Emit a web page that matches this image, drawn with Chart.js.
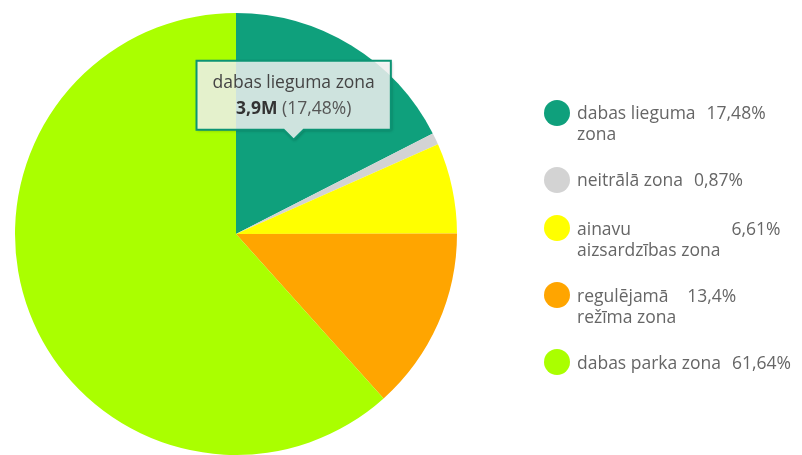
<!DOCTYPE html>
<html>
<head>
<meta charset="utf-8">
<script src="https://cdn.jsdelivr.net/npm/chart.js@4"></script>
<style>
  html, body { margin: 0; padding: 0; background: #fff; }
  #wrap { position: relative; width: 802px; height: 455px; overflow: hidden; }
  #c { position: absolute; left: 0; top: 0; }
  #legend { position: absolute; left: 544px; top: 102px; font-family: "Open Sans", sans-serif; font-size: 17.5px; color: #666; }
  .item { display: flex; align-items: flex-start; margin-bottom: 25px; line-height: 21px; }
  .dot { width: 26px; height: 26px; border-radius: 50%; margin-top: -2.5px; margin-right: 7px; flex: none; }
  .lab { white-space: nowrap; }
  .val { white-space: nowrap; margin-left: 11px; }
</style>
</head>
<body>
<div id="wrap">
  <canvas id="c" width="802" height="455"></canvas>
  <div id="legend"></div>
</div>
<script>
// ---- data ----
const categories = ["dabas lieguma zona", "neitrālā zona", "ainavu aizsardzības zona", "regulējamā režīma zona", "dabas parka zona"];
const shares = [17.48, 0.87, 6.61, 13.4, 61.64];
const colors = ["#0fa07c", "#d3d3d3", "#ffff00", "#ffa500", "#aaff00"];
const tooltipIndex = 0;
const tooltipAmount = "3,9M";

const fmtPct = v => String(v).replace('.', ',') + '%';
const FONT_FAMILY = '"Open Sans", sans-serif';
const FONT_SIZE = 17.5;

// ---- tooltip plugin ----
const staticTooltip = {
  id: 'staticTooltip',
  afterDraw(chart) {
    const ctx = chart.ctx;
    const el = chart.getDatasetMeta(0).data[tooltipIndex];
    const pos = el.tooltipPosition();
    const title = categories[tooltipIndex];
    const amount = tooltipAmount;
    const pct = ' (' + fmtPct(shares[tooltipIndex]) + ')';
    ctx.save();
    ctx.font = FONT_SIZE + 'px ' + FONT_FAMILY;
    const tW = ctx.measureText(title).width;
    const pW = ctx.measureText(pct).width;
    ctx.font = 'bold ' + FONT_SIZE + 'px ' + FONT_FAMILY;
    const aW = ctx.measureText(amount).width;
    const bW = aW + pW;
    const w = Math.max(tW, bW) + 32;
    const h = 69;
    const caret = 10;
    const left = pos.x - w / 2, right = pos.x + w / 2;
    const bottom = pos.y - caret, top = bottom - h;
    ctx.beginPath();
    ctx.moveTo(left, top);
    ctx.lineTo(right, top);
    ctx.lineTo(right, bottom);
    ctx.lineTo(pos.x + caret, bottom);
    ctx.lineTo(pos.x, pos.y);
    ctx.lineTo(pos.x - caret, bottom);
    ctx.lineTo(left, bottom);
    ctx.closePath();
    ctx.shadowColor = 'rgba(0,0,0,0.35)';
    ctx.shadowBlur = 3;
    ctx.shadowOffsetX = 1;
    ctx.shadowOffsetY = 1;
    ctx.fillStyle = 'rgba(255,255,255,0.8)';
    ctx.fill();
    ctx.shadowColor = 'transparent';
    ctx.lineWidth = 2;
    ctx.strokeStyle = '#0c9474';
    ctx.stroke();
    ctx.textBaseline = 'middle';
    ctx.fillStyle = '#444';
    ctx.font = FONT_SIZE + 'px ' + FONT_FAMILY;
    ctx.textAlign = 'center';
    ctx.fillText(title, pos.x, top + 22);
    ctx.textAlign = 'left';
    const bx = pos.x - bW / 2;
    ctx.font = 'bold ' + FONT_SIZE + 'px ' + FONT_FAMILY;
    ctx.fillStyle = '#333';
    ctx.fillText(amount, bx, top + 48);
    ctx.font = FONT_SIZE + 'px ' + FONT_FAMILY;
    ctx.fillStyle = '#555';
    ctx.fillText(pct, bx + aW, top + 48);
    ctx.restore();
  }
};

new Chart(document.getElementById('c'), {
  type: 'pie',
  data: {
    labels: categories,
    datasets: [{
      data: shares,
      backgroundColor: colors,
      borderWidth: 0,
      hoverOffset: 0
    }]
  },
  options: {
    responsive: false,
    animation: false,
    events: [],
    layout: { padding: { left: 15, right: 345, top: 13, bottom: 0 } },
    plugins: {
      legend: { display: false },
      tooltip: { enabled: false }
    }
  },
  plugins: [staticTooltip]
});

// ---- HTML legend ----
const measureCtx = document.createElement('canvas').getContext('2d');
measureCtx.font = FONT_SIZE + 'px ' + FONT_FAMILY;
function wrap(text, maxW) {
  const words = text.split(' ');
  const lines = [];
  let cur = '';
  for (const w of words) {
    const t = cur ? cur + ' ' + w : w;
    if (cur && measureCtx.measureText(t).width > maxW) { lines.push(cur); cur = w; }
    else cur = t;
  }
  if (cur) lines.push(cur);
  return lines;
}
const legend = document.getElementById('legend');
categories.forEach((c, i) => {
  const item = document.createElement('div');
  item.className = 'item';
  const dot = document.createElement('div');
  dot.className = 'dot';
  dot.style.background = colors[i];
  const lab = document.createElement('span');
  lab.className = 'lab';
  wrap(c, 147).forEach((ln, k) => {
    if (k) lab.appendChild(document.createElement('br'));
    lab.appendChild(document.createTextNode(ln));
  });
  const val = document.createElement('span');
  val.className = 'val';
  val.textContent = fmtPct(shares[i]);
  item.appendChild(dot);
  item.appendChild(lab);
  item.appendChild(val);
  legend.appendChild(item);
});
</script>
</body>
</html>
